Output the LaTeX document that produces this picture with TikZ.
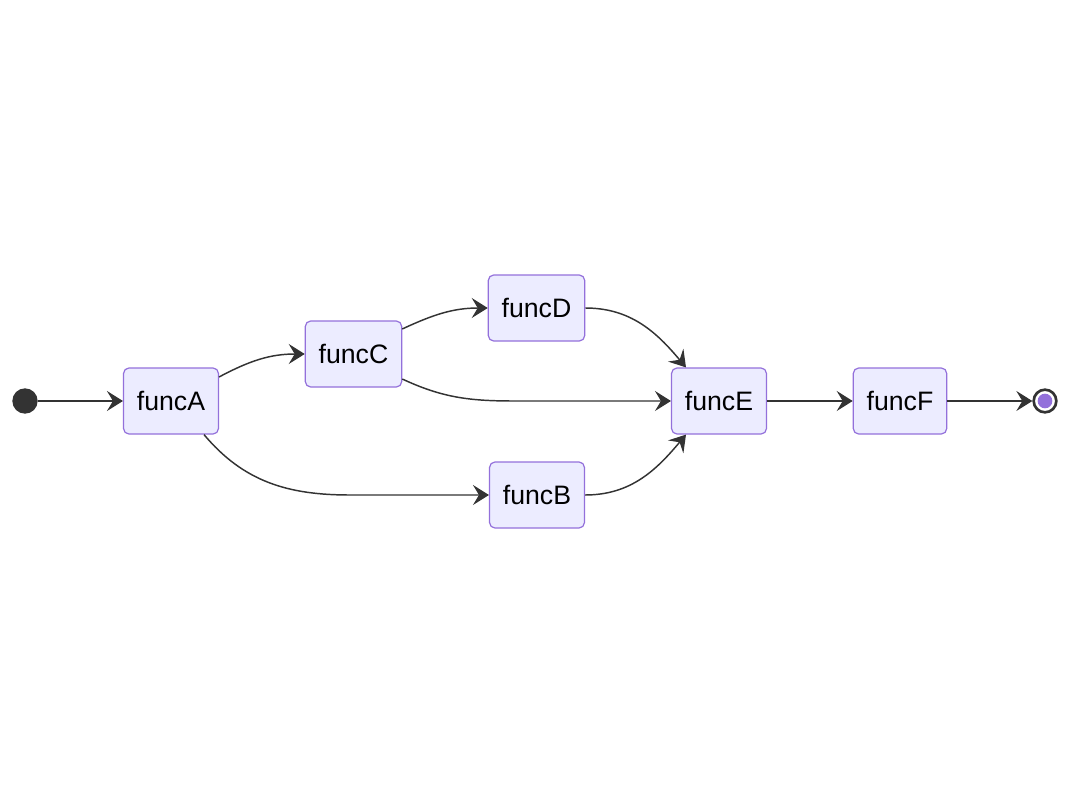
\documentclass[tikz,border=0pt]{standalone}
\usepackage{fontspec}
\setmainfont{Liberation Sans}
\usetikzlibrary{arrows.meta,positioning,calc}
\definecolor{nodefill}{HTML}{ECECFF}
\definecolor{nodeedge}{HTML}{9370DB}
\definecolor{linegray}{HTML}{333333}
\tikzset{
  fbox/.style={rounded corners=4pt, draw=nodeedge, fill=nodefill, line width=0.9pt,
               inner xsep=10pt, minimum height=49.5pt, font=\fontsize{20}{24}\selectfont},
  startdot/.style={circle, fill=linegray, minimum size=19pt, inner sep=0pt},
  enddot/.style={circle, draw=linegray, fill=white, line width=2pt, minimum size=17pt, inner sep=0pt,
               path picture={\fill[nodeedge] (path picture bounding box.center) circle (5.5pt);}},
  flow/.style={-{Stealth[length=12pt, width=15pt, inset=4.5pt]}, line width=1.1pt, draw=linegray},
}
\begin{document}
\begin{tikzpicture}[x=0.75pt, y=0.75pt]
    \useasboundingbox (0,0) rectangle (1071,-803);
    \node[startdot] (start) at (25,-401) {};
    \node[fbox] (funcA) at (171,-401) {funcA};
    \node[fbox] (funcC) at (353.5,-354) {funcC};
    \node[fbox] (funcD) at (536.5,-308) {funcD};
    \node[fbox] (funcB) at (537,-495) {funcB};
    \node[fbox] (funcE) at (719,-401) {funcE};
    \node[fbox] (funcF) at (900,-401) {funcF};
    \node[enddot] (end) at (1045,-401) {};
    % straight hops
    \draw[flow] (start)--(funcA);\draw[flow] (funcE)--(funcF);\draw[flow] (funcF)--(end);
    % branches
    \draw[flow] ($(funcA.east)+(0,24)$) to[out=28, in=180] (funcC.west);
    \draw[flow] ($(funcC.east)+(0,25)$) to[out=25, in=180] (funcD.west);
    \draw[flow] ($(funcC.east)+(0,-25)$) to[out=-25, in=180] (515,-401) -- (funcE.west);
    \draw[flow] ($(funcA.south)+(33,0)$) to[out=-50, in=180] (350,-495) -- (funcB.west);
    \draw[flow] (funcD.east) to[out=0, in=130] ($(funcE.north)+(-33,0)$);
    \draw[flow] (funcB.east) to[out=0, in=-130] ($(funcE.south)+(-33,0)$);
\end{tikzpicture}
\end{document}
